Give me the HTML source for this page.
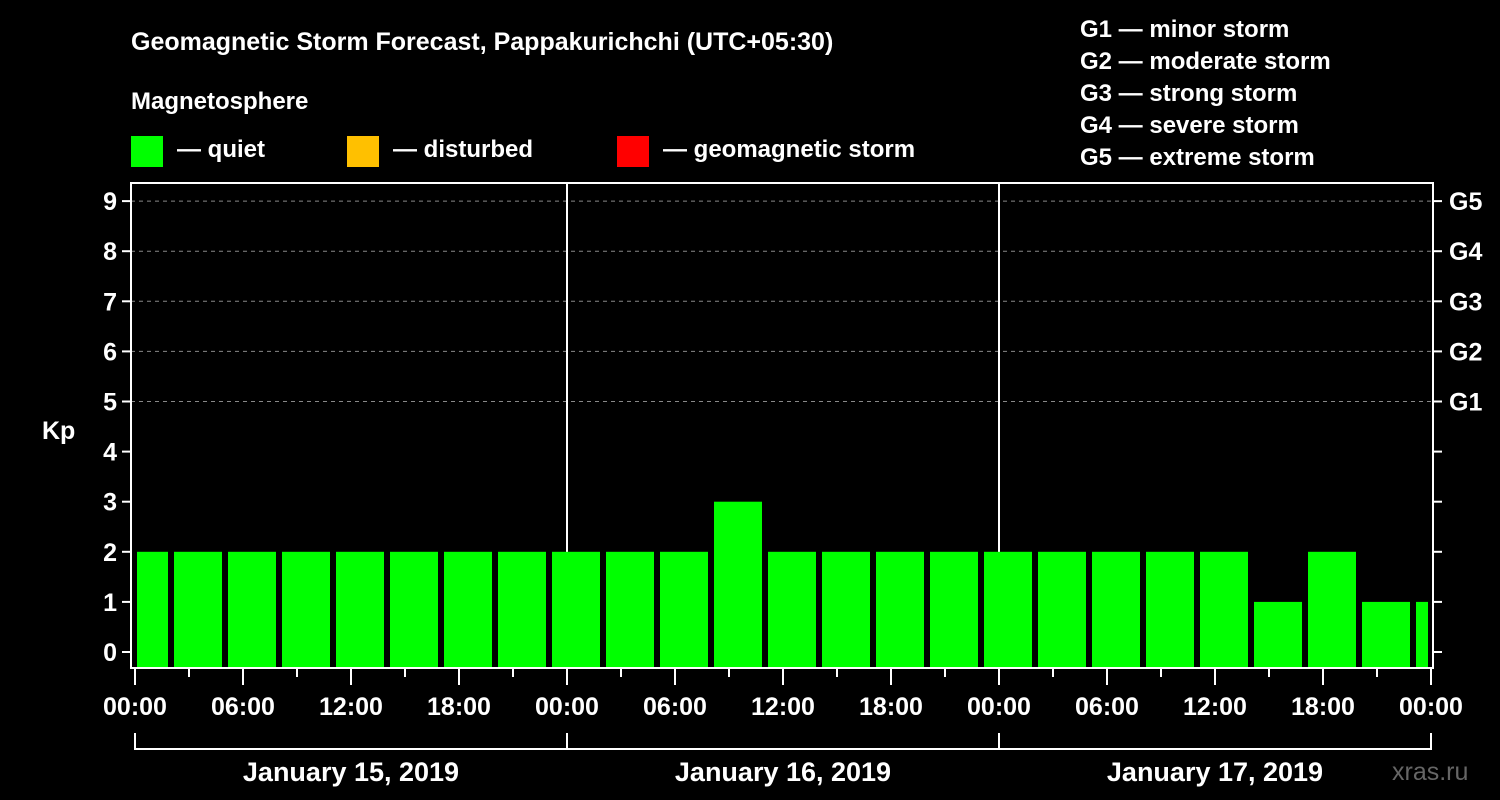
<!DOCTYPE html>
<html><head><meta charset="utf-8"><style>
html,body{margin:0;padding:0;background:#000;}
svg{display:block;font-family:"Liberation Sans",Arial,sans-serif;font-weight:bold;}
</style></head><body>
<svg id="chart" width="1500" height="800" viewBox="0 0 1500 800">
<rect width="1500" height="800" fill="#000"/>
<text x="131" y="50" fill="#fff" font-size="25">Geomagnetic Storm Forecast, Pappakurichchi (UTC+05:30)</text>
<text x="131" y="109" fill="#fff" font-size="24">Magnetosphere</text>
<g><rect x="131" y="136" width="32" height="31" fill="#00ff00"/><text x="177" y="157" fill="#fff" font-size="24">— quiet</text></g>
<g><rect x="347" y="136" width="32" height="31" fill="#ffc000"/><text x="393" y="157" fill="#fff" font-size="24">— disturbed</text></g>
<g><rect x="617" y="136" width="32" height="31" fill="#ff0000"/><text x="663" y="157" fill="#fff" font-size="24">— geomagnetic storm</text></g>
<g fill="#fff" font-size="24">
<text x="1080" y="37">G1 — minor storm</text>
<text x="1080" y="69">G2 — moderate storm</text>
<text x="1080" y="101">G3 — strong storm</text>
<text x="1080" y="133">G4 — severe storm</text>
<text x="1080" y="165">G5 — extreme storm</text>
</g>
<text x="42" y="439" fill="#fff" font-size="25">Kp</text>
<g id="grid"></g><g id="bars"></g><g id="axes"></g>
<text x="1392" y="780" fill="#666" font-size="25" font-weight="normal">xras.ru</text>
</svg>
<script>
const kpValues=[2,2,2,2,2,2,2,2,2,2,2,3,2,2,2,2,2,2,2,2,2,1,2,1,1];
const startHour=-1;           // first interval start (hours from Jan 15 00:00)
const intervalHours=3;
const yTicks=[0,1,2,3,4,5,6,7,8,9];
const gLabels=["G1","G2","G3","G4","G5"];
const gLevels=[5,6,7,8,9];
const timeLabels=["00:00","06:00","12:00","18:00","00:00","06:00","12:00","18:00","00:00","06:00","12:00","18:00","00:00"];
const dayLabels=["January 15, 2019","January 16, 2019","January 17, 2019"];
const NS="http://www.w3.org/2000/svg";
const L=131,R=1433,T=183,B=668;
const x0=135,pxH=18;
const X=h=>x0+h*pxH;
const Y=v=>652-v*50.1;
function mk(tag,attrs,parent,txt){const e=document.createElementNS(NS,tag);for(const k in attrs)e.setAttribute(k,attrs[k]);if(txt!==undefined)e.textContent=txt;document.getElementById(parent).appendChild(e);return e;}
gLevels.forEach((v,i)=>{
 const l=mk('line',{x1:L,x2:R,y1:Y(v),y2:Y(v),stroke:'#888','stroke-dasharray':'4,4','stroke-width':1},'grid');
 
 
});
[1,2].forEach(d=>{
 const l=mk('line',{x1:X(d*24),x2:X(d*24),y1:T,y2:B,stroke:'#fff','stroke-width':2},'grid');
 
 
});
kpValues.forEach((v,i)=>{
 const s=startHour+i*intervalHours,e=s+intervalHours;
 let xa=X(s)+3,xb=X(e)-3;
 xa=Math.max(xa,L+6);xb=Math.min(xb,R-5);
 const c=v>=5?'#ff0000':(v>=4?'#ffc000':'#00ff00');
 const r=mk('rect',{x:xa,y:Y(v),width:xb-xa,height:B-1-Y(v),fill:c},'bars');
 
 
});
const f=mk('rect',{x:L,y:T,width:R-L,height:B-T,fill:'none',stroke:'#fff','stroke-width':2},'axes');


yTicks.forEach(v=>{
 mk('line',{x1:L-9,x2:L,y1:Y(v),y2:Y(v),stroke:'#fff','stroke-width':2},'axes');
 mk('line',{x1:R,x2:R+9,y1:Y(v),y2:Y(v),stroke:'#fff','stroke-width':2},'axes');
 const t=mk('text',{x:L-14,y:Y(v)+9,fill:'#fff','font-size':25,'text-anchor':'end'},'axes',v);
 
 
});
gLabels.forEach((g,i)=>{
 const t=mk('text',{x:1449,y:Y(gLevels[i])+9,fill:'#fff','font-size':25},'axes',g);
 
 
});
for(let h=0;h<=72;h+=3){
 const long=h%6===0;
 mk('line',{x1:X(h),x2:X(h),y1:B,y2:long?B+17:B+9,stroke:'#fff','stroke-width':2},'axes');
}
timeLabels.forEach((s,i)=>{
 const t=mk('text',{x:X(i*6),y:715,fill:'#fff','font-size':25,'text-anchor':'middle'},'axes',s);
 
 
});
mk('line',{x1:X(0),x2:X(72),y1:749,y2:749,stroke:'#fff','stroke-width':2},'axes');
for(let d=0;d<=3;d++)mk('line',{x1:X(d*24),x2:X(d*24),y1:733,y2:750,stroke:'#fff','stroke-width':2},'axes');
dayLabels.forEach((s,i)=>{
 const t=mk('text',{x:X(i*24+12),y:781,fill:'#fff','font-size':27,'text-anchor':'middle'},'axes',s);
 
 
});
</script>
</body></html>
